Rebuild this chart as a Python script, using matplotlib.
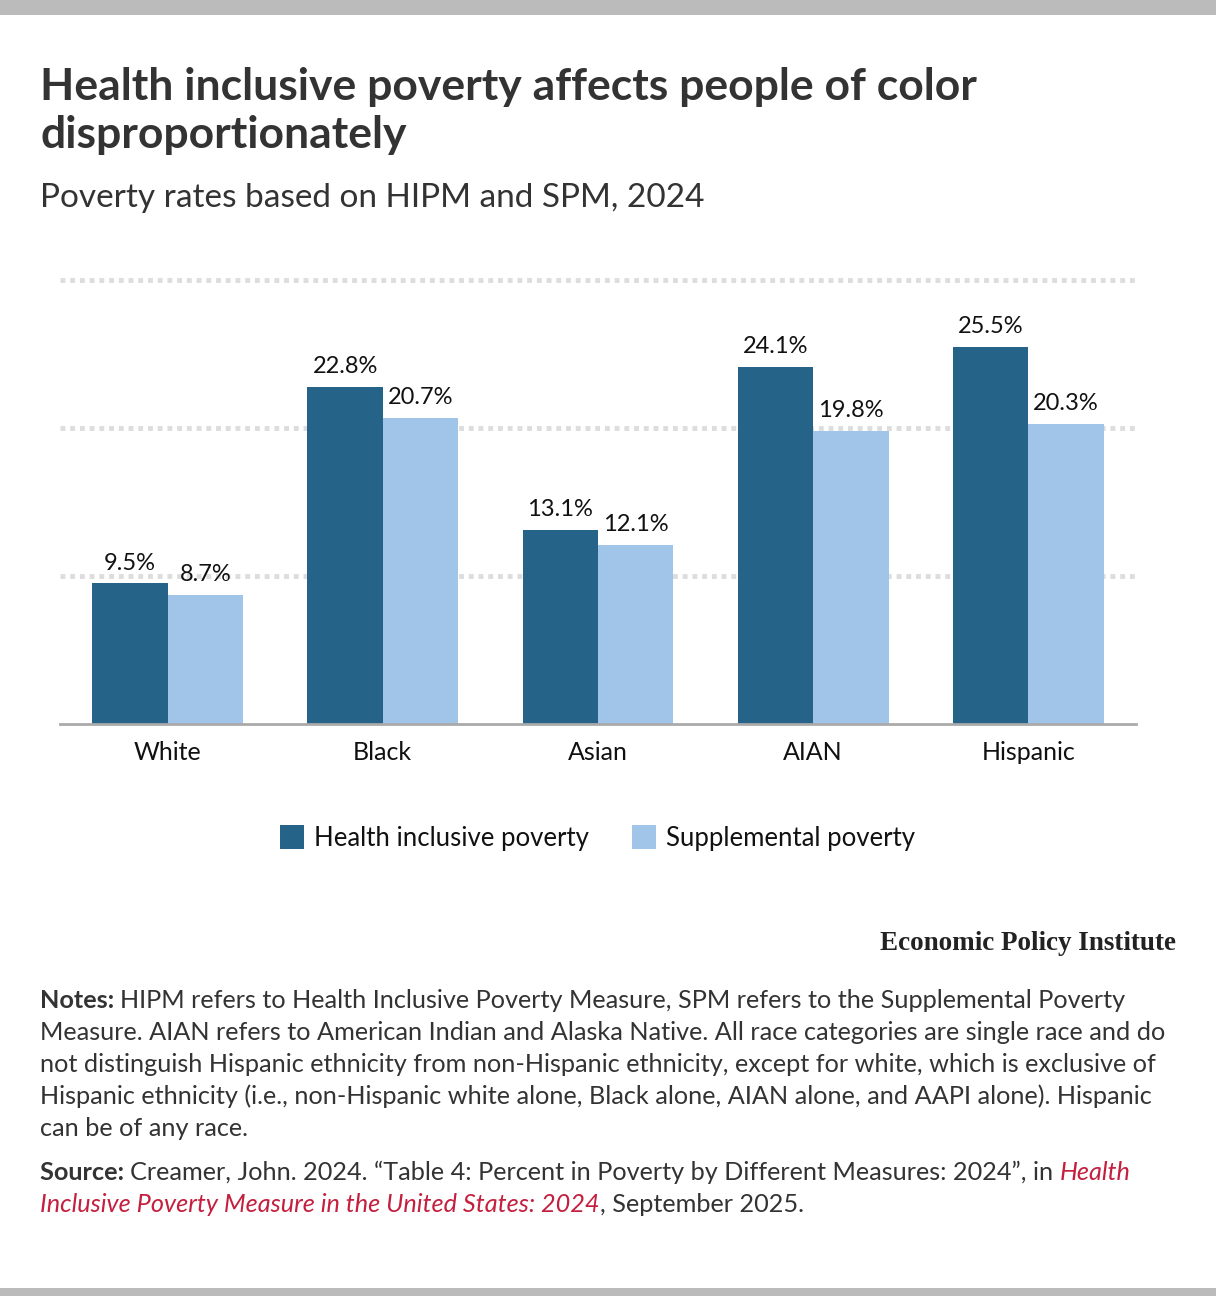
import matplotlib
matplotlib.use("Agg")
import matplotlib.pyplot as plt
import numpy as np
from matplotlib.patches import Rectangle

# --- data ---
groups = ["White", "Black", "Asian", "AIAN", "Hispanic"]
hipm = [9.5, 22.8, 13.1, 24.1, 25.5]
spm = [8.7, 20.7, 12.1, 19.8, 20.3]
series_names = ["Health inclusive poverty", "Supplemental poverty"]

title_lines = ["Health inclusive poverty affects people of color",
               "disproportionately"]
subtitle = "Poverty rates based on HIPM and SPM, 2024"
notes_lines = [
    "HIPM refers to Health Inclusive Poverty Measure, SPM refers to the Supplemental Poverty",
    "Measure. AIAN refers to American Indian and Alaska Native. All race categories are single race and do",
    "not distinguish Hispanic ethnicity from non-Hispanic ethnicity, except for white, which is exclusive of",
    "Hispanic ethnicity (i.e., non-Hispanic white alone, Black alone, AIAN alone, and AAPI alone). Hispanic",
    "can be of any race.",
]
source_1 = "Creamer, John. 2024. \u201cTable 4: Percent in Poverty by Different Measures: 2024\u201d, in "
source_1_link = "Health"
source_2_link = "Inclusive Poverty Measure in the United States: 2024"
source_2 = ", September 2025."

DARK = "#266389"
LIGHT = "#a0c5e8"
TEXT = "#333333"
RED = "#c41f3e"
FONT = "Lato"

W, H = 1216, 1296
fig = plt.figure(figsize=(W / 100, H / 100), dpi=100)
fig.patch.set_facecolor("white")


def fy(py):
    return 1 - py / H


def fx(px):
    return px / W


# gray strips top and bottom
fig.add_artist(Rectangle((0, fy(15)), 1, 15 / H, transform=fig.transFigure,
                         color="#bbbbbb", lw=0))
fig.add_artist(Rectangle((0, 0), 1, 8 / H, transform=fig.transFigure,
                         color="#bbbbbb", lw=0))

# title and subtitle
for i, line in enumerate(title_lines):
    fig.text(fx(40), fy(100 + 48 * i), line, fontsize=32, fontweight="bold",
             color=TEXT, family=FONT, va="baseline", ha="left")
fig.text(fx(40), fy(207), subtitle, fontsize=24, color=TEXT, family=FONT,
         va="baseline", ha="left")

# --- chart ---
ax = fig.add_axes([fx(60), fy(724), fx(1136) - fx(60), 448 / H])
x = np.arange(len(groups))
bw = 0.35
b1 = ax.bar(x - bw / 2, hipm, bw, color=DARK, zorder=3)
b2 = ax.bar(x + bw / 2, spm, bw, color=LIGHT, zorder=3)

for bars, vals in ((b1, hipm), (b2, spm)):
    for r, v in zip(bars, vals):
        ax.annotate(f"{v}%", (r.get_x() + r.get_width() / 2, v),
                    xytext=(0, 10), textcoords="offset points", ha="center",
                    va="baseline", fontsize=17, family=FONT, color="#111111")

ax.set_xlim(-0.5, len(groups) - 0.5)
ax.set_ylim(0, 30.27)
ax.set_yticks([10, 20, 30])
ax.yaxis.grid(True, color="#dddddd", linestyle=(0, (1, 1)), linewidth=3.5, zorder=0)
ax.tick_params(axis="y", left=False, labelleft=False)
ax.tick_params(axis="x", bottom=False, labelsize=18, pad=9, colors="#111111")
ax.set_xticks(x)
ax.set_xticklabels(groups, family=FONT)
for s in ("top", "left", "right"):
    ax.spines[s].set_visible(False)
ax.spines["bottom"].set_color("#aaaaaa")
ax.spines["bottom"].set_linewidth(2)
ax.spines["bottom"].set_zorder(4)

# legend
for i, (name, col) in enumerate(zip(series_names, [DARK, LIGHT])):
    sx = [280, 632][i]
    fig.add_artist(Rectangle((fx(sx), fy(849)), 24 / W, 24 / H,
                             transform=fig.transFigure, color=col, lw=0))
    fig.text(fx(sx + 34), fy(846), name, fontsize=18.5, family=FONT,
             color="#111111", va="baseline", ha="left")

# EPI wordmark
fig.text(fx(1176), fy(950), "Economic Policy Institute", fontsize=19.5,
         fontweight="bold", family="Liberation Serif", color="#222222",
         ha="right", va="baseline")

# notes & source with mixed styles
fig.canvas.draw()
renderer = fig.canvas.get_renderer()


def runs(px, py, parts):
    cur = fx(px)
    for txt, kw in parts:
        t = fig.text(cur, fy(py), txt, fontsize=18.2, family=FONT,
                     va="baseline", ha="left", **kw)
        bb = t.get_window_extent(renderer=renderer)
        cur += bb.width / W


plain = {"color": TEXT}
bold = {"color": TEXT, "fontweight": "bold"}
link = {"color": RED, "style": "italic"}

runs(40, 1008, [("Notes: ", bold), (notes_lines[0], plain)])
for i, line in enumerate(notes_lines[1:]):
    runs(40, 1040 + 32 * i, [(line, plain)])
runs(40, 1180, [("Source: ", bold), (source_1, plain), (source_1_link, link)])
runs(40, 1212, [(source_2_link, link), (source_2, plain)])

fig.savefig("out.png", dpi=100)
